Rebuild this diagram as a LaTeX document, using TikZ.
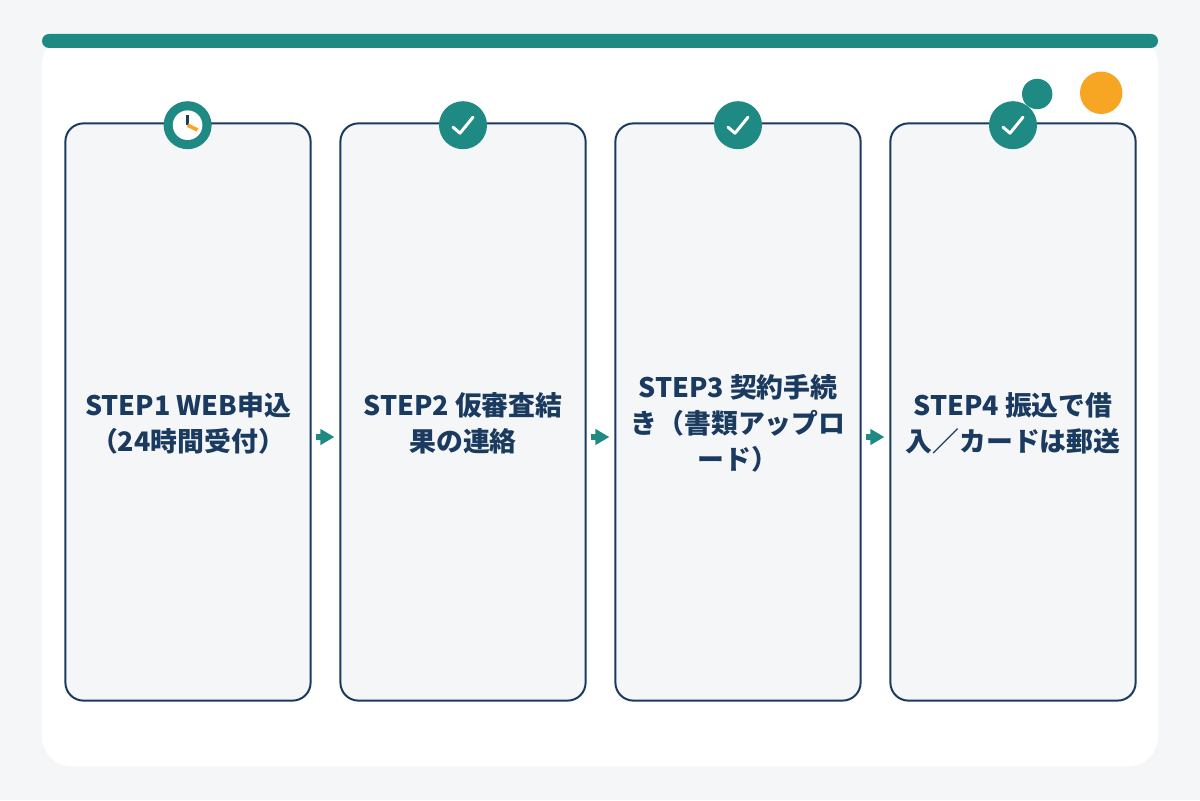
\documentclass[tikz,border=0pt]{standalone}
\usepackage{fontspec}
\setmainfont{Noto Sans CJK JP}
\usetikzlibrary{arrows.meta,positioning}
\definecolor{pagegray}{RGB}{244,246,248}
\definecolor{stepteal}{RGB}{31,138,132}
\definecolor{stepnavy}{RGB}{27,58,95}
\definecolor{accentamber}{RGB}{247,166,35}
\tikzset{
  stepcard/.style={draw=stepnavy, line width=0.05cm, rounded corners=0.45cm, fill=pagegray, minimum width=6.13cm, minimum height=14.43cm, inner sep=0pt},
  steplabel/.style={text=stepnavy, font=\fontsize{19.1}{25.6}\selectfont\bfseries, align=center, inner sep=0pt},
  badge/.style={circle, fill=stepteal, minimum size=1.2cm, inner sep=0pt},
  checkmark/.style={draw=white, line width=0.075cm, line cap=round, line join=round},
  flowarrow/.style={-{Triangle[length=0.35cm,width=0.38cm]}, draw=stepteal, line width=0.15cm, shorten <=0.1cm, shorten >=0.125cm}
}
\begin{document}
\begin{tikzpicture}
    \useasboundingbox (0,0) rectangle (30,20);
    \fill[pagegray] (0,0) rectangle (30,20);
    \node[fill=white, rounded corners=0.75cm, minimum width=27.9cm, minimum height=18.3cm, inner sep=0pt] (panel) at (15,9.99) {};
    \node[fill=stepteal, rounded corners=0.175cm, minimum width=27.9cm, minimum height=0.35cm, inner sep=0pt] (topbar) at (15,18.975) {};

    \node[stepcard] (card1) at (4.7,9.7) {};
    \node[stepcard] (card2) at (11.575,9.7) {};
    \node[stepcard] (card3) at (18.45,9.7) {};
    \node[stepcard] (card4) at (25.325,9.7) {};

    \node[steplabel] (label1) at (4.7,9.42) {STEP1 WEB申込\\（24時間受付）};
    \node[steplabel] (label2) at (11.575,9.42) {STEP2 仮審査結\\果の連絡};
    \node[steplabel] (label3) at (18.45,9.42) {STEP3 契約手続\\き（書類アップロ\\ード）};
    \node[steplabel] (label4) at (25.325,9.42) {STEP4 振込で借\\入／カードは郵送};

    \draw[flowarrow] ([yshift=-0.625cm]card1.east) -- ([yshift=-0.625cm]card2.west);
    \draw[flowarrow] ([yshift=-0.625cm]card2.east) -- ([yshift=-0.625cm]card3.west);
    \draw[flowarrow] ([yshift=-0.625cm]card3.east) -- ([yshift=-0.625cm]card4.west);

    \node[circle, fill=stepteal, minimum size=0.76cm, inner sep=0pt] (dotteal) at (25.93,17.65) {};
    \node[circle, fill=accentamber, minimum size=1.06cm, inner sep=0pt] (dotamber) at (27.53,17.68) {};

    \node[badge] (badge1) at (4.69,16.87) {};
    \node[badge] (badge2) at (11.575,16.87) {};
    \node[badge] (badge3) at (18.45,16.87) {};
    \node[badge] (badge4) at (25.325,16.87) {};

    % clock face
    \node[circle, fill=white, minimum size=0.74cm, inner sep=0pt] (clockface) at (badge1.center) {};
    \draw[stepnavy, line width=0.09cm] (clockface.center) -- ++(0,0.25);
    \draw[accentamber, line width=0.09cm] (clockface.center) -- ++(0.25,-0.12);

    \draw[checkmark] ([shift={(-0.25,-0.05)}]badge2.center) -- ++(0.175,-0.15) -- ++(0.325,0.4);
    \draw[checkmark] ([shift={(-0.25,-0.05)}]badge3.center) -- ++(0.175,-0.15) -- ++(0.325,0.4);
    \draw[checkmark] ([shift={(-0.25,-0.05)}]badge4.center) -- ++(0.175,-0.15) -- ++(0.325,0.4);
\end{tikzpicture}
\end{document}
